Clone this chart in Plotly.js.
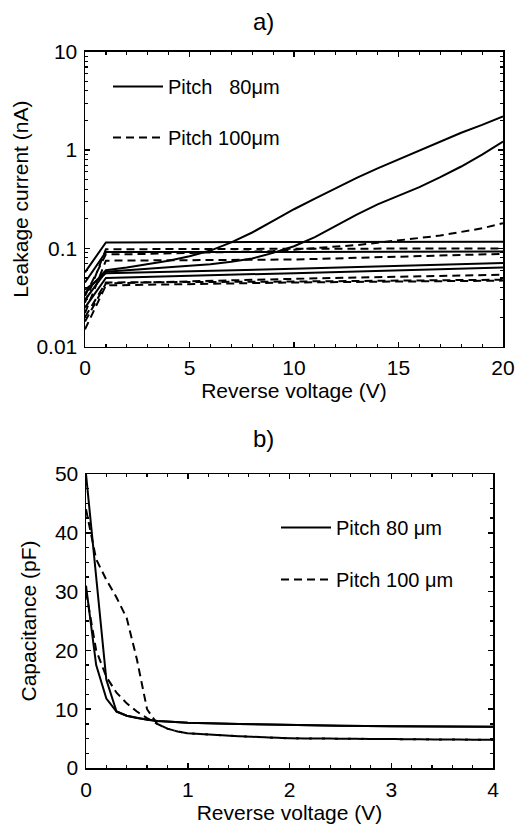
<!DOCTYPE html>
<html>
<head>
<meta charset="utf-8">
<script src="https://cdn.plot.ly/plotly-3.0.1.min.js"></script>
<style>
html,body{margin:0;padding:0;background:#fff;}
#chart{width:532px;height:825px;}
</style>
</head>
<body>
<div id="chart"></div>
<script>
// ---------- Panel a) leakage current ----------
const vFlat = [0, 1, 10, 20];
const vCurve = [0,1,2,3,4,5,6,7,8,9,10,11,12,13,14,15,16,17,18,19,20];

const solidA = [0.057, 0.115, 0.116, 0.117];
const solidB = [0.045, 0.092, 0.092, 0.093];
const solidE = [0.038, 0.056, 0.062, 0.071];
const solidF = [0.025, 0.050, 0.056, 0.064];
const solidC = [0.035,0.060,0.064,0.069,0.075,0.083,0.095,0.115,0.145,0.19,0.25,0.32,0.41,0.52,0.65,0.80,0.98,1.20,1.50,1.80,2.20];
const solidD = [0.030,0.058,0.060,0.062,0.064,0.066,0.069,0.073,0.079,0.090,0.105,0.13,0.17,0.22,0.28,0.34,0.42,0.53,0.68,0.90,1.22];

const dash1 = [0.028, 0.098, 0.099, 0.100];
const dash3 = [0.022, 0.075, 0.077, 0.088];
const dash4 = [0.018, 0.044, 0.049, 0.054];
const dash5 = [0.015, 0.042, 0.045, 0.047];
const dash6 = [0.020, 0.045, 0.046, 0.048];
const dash2 = [0.033,0.087,0.087,0.088,0.088,0.089,0.090,0.091,0.092,0.094,0.097,0.100,0.103,0.108,0.114,0.120,0.127,0.135,0.147,0.160,0.180];

const topXTicks = [0, 5, 10, 15, 20];
const topYTicks = [0.01, 0.1, 1, 10];
const topYTickText = ["0.01", "0.1", "1", "10"];
const topYMinor = [0.02,0.03,0.04,0.05,0.06,0.07,0.08,0.09,0.2,0.3,0.4,0.5,0.6,0.7,0.8,0.9,2,3,4,5,6,7,8,9];

// ---------- Panel b) capacitance ----------
const vCap = [0,0.1,0.2,0.3,0.4,0.5,0.6,0.7,0.8,0.9,1,1.5,2,2.5,3,3.5,4];
const cap80a  = [50, 32.5, 15, 9.6, 8.9, 8.5, 8.2, 8.0, 7.9, 7.8, 7.7, 7.5, 7.3, 7.2, 7.1, 7.05, 7.0];
const cap80b  = [31, 17.5, 11.8, 9.6, 8.9, 8.5, 8.2, 8.0, 7.9, 7.8, 7.7, 7.5, 7.3, 7.2, 7.1, 7.05, 7.0];
const cap100a = [44, 35.5, 32, 29, 25.5, 18.5, 10, 7.5, 6.7, 6.2, 5.9, 5.4, 5.05, 4.95, 4.9, 4.85, 4.8];
const cap100b = [30, 20, 15.5, 12.8, 11, 9.6, 8.5, 7.5, 6.7, 6.2, 5.9, 5.4, 5.05, 4.95, 4.9, 4.85, 4.8];

const legendA = ["Pitch\u00a0\u00a0\u00a080\u03bcm", "Pitch 100\u03bcm"];
const legendB = ["Pitch 80 \u03bcm", "Pitch 100 \u03bcm"];

const FONT = "Liberation Sans, Arial, sans-serif";
const solidLine = {color:"#000", width:2, dash:"solid"};
const dashLine  = {color:"#000", width:2, dash:"8px,5px"};

function tr(x, y, line, name, group, show, xa, ya, leg){
  return {x:x, y:y, type:"scatter", mode:"lines", line:line, name:name,
          legendgroup:group, showlegend:show, xaxis:xa, yaxis:ya, legend:leg,
          hoverinfo:"skip"};
}

const traces = [
  tr(vFlat, solidA, solidLine, legendA[0], "a80", true,  "x", "y", "legend"),
  tr(vFlat, solidB, solidLine, legendA[0], "a80", false, "x", "y", "legend"),
  tr(vFlat, solidE, solidLine, legendA[0], "a80", false, "x", "y", "legend"),
  tr(vFlat, solidF, solidLine, legendA[0], "a80", false, "x", "y", "legend"),
  tr(vCurve, solidC, solidLine, legendA[0], "a80", false, "x", "y", "legend"),
  tr(vCurve, solidD, solidLine, legendA[0], "a80", false, "x", "y", "legend"),
  tr(vFlat, dash1, dashLine, legendA[1], "a100", true,  "x", "y", "legend"),
  tr(vCurve, dash2, dashLine, legendA[1], "a100", false, "x", "y", "legend"),
  tr(vFlat, dash3, dashLine, legendA[1], "a100", false, "x", "y", "legend"),
  tr(vFlat, dash4, dashLine, legendA[1], "a100", false, "x", "y", "legend"),
  tr(vFlat, dash5, dashLine, legendA[1], "a100", false, "x", "y", "legend"),
  tr(vFlat, dash6, dashLine, legendA[1], "a100", false, "x", "y", "legend"),

  tr(vCap, cap80a,  solidLine, legendB[0], "b80", true,  "x2", "y2", "legend2"),
  tr(vCap, cap80b,  solidLine, legendB[0], "b80", false, "x2", "y2", "legend2"),
  tr(vCap, cap100a, dashLine,  legendB[1], "b100", true,  "x2", "y2", "legend2"),
  tr(vCap, cap100b, dashLine,  legendB[1], "b100", false, "x2", "y2", "legend2")
];

const W = 532, H = 825;
const TICKF = {family:FONT, size:21, color:"#000"};
const TITLEF = {family:FONT, size:21, color:"#000"};
const axisCommon = {
  showline:true, linecolor:"#000", linewidth:1.5, mirror:"allticks",
  ticks:"inside", ticklen:5, tickwidth:1.5, tickcolor:"#000",
  showgrid:false, zeroline:false, automargin:false,
  ticklabelstandoff:2,
  tickfont:TICKF
};
function merge(a,b){ return Object.assign({}, a, b); }
const minorX = function(d){ return {dtick:d, ticks:"inside", ticklen:3, tickcolor:"#000", tickwidth:1.2, showgrid:false}; };

const layout = {
  width:W, height:H,
  margin:{l:0, r:0, t:0, b:0},
  paper_bgcolor:"#fff", plot_bgcolor:"#fff",
  font:{family:FONT, color:"#000"},
  xaxis: merge(axisCommon, {
    domain:[85/W, 503/W], anchor:"y", range:[0,20],
    tickmode:"array", tickvals:topXTicks,
    minor:minorX(1),
    title:{text:"Reverse voltage (V)", font:TITLEF, standoff:0}
  }),
  yaxis: merge(axisCommon, {
    domain:[1-346.7/H, 1-51.7/H], anchor:"x", type:"log", range:[-2,1],
    tickmode:"array", tickvals:topYTicks, ticktext:topYTickText,
    minor:{tickmode:"array", tickvals:topYMinor, ticks:"inside", ticklen:3, tickcolor:"#000", tickwidth:1.2, showgrid:false},
    title:{text:"Leakage current (nA)", font:TITLEF, standoff:2}
  }),
  xaxis2: merge(axisCommon, {
    domain:[86/W, 493/W], anchor:"y2", range:[0,4],
    tickmode:"linear", dtick:1, tick0:0,
    minor:minorX(0.2),
    title:{text:"Reverse voltage (V)", font:TITLEF, standoff:0}
  }),
  yaxis2: merge(axisCommon, {
    domain:[1-768/H, 1-474/H], anchor:"x2", range:[0,50],
    tickmode:"linear", dtick:10, tick0:0,
    minor:minorX(2.5),
    title:{text:"Capacitance (pF)", font:TITLEF, standoff:12}
  }),
  legend:{x:108/W, y:1-67/H, xanchor:"left", yanchor:"top", bgcolor:"rgba(0,0,0,0)",
          font:{family:FONT, size:20, color:"#000"}, traceorder:"grouped", tracegroupgap:22, itemwidth:50},
  legend2:{x:276/W, y:1-508/H, xanchor:"left", yanchor:"top", bgcolor:"rgba(0,0,0,0)",
          font:{family:FONT, size:20, color:"#000"}, traceorder:"grouped", tracegroupgap:23, itemwidth:50},
  annotations:[
    {text:"a)", xref:"paper", yref:"paper", x:263/W, y:1-22/H, showarrow:false,
     xanchor:"center", yanchor:"middle", font:{family:FONT, size:24, color:"#000"}},
    {text:"b)", xref:"paper", yref:"paper", x:263/W, y:1-438/H, showarrow:false,
     xanchor:"center", yanchor:"middle", font:{family:FONT, size:24, color:"#000"}}
  ]
};

Plotly.newPlot("chart", traces, layout, {staticPlot:true, displayModeBar:false});
</script>
</body>
</html>
